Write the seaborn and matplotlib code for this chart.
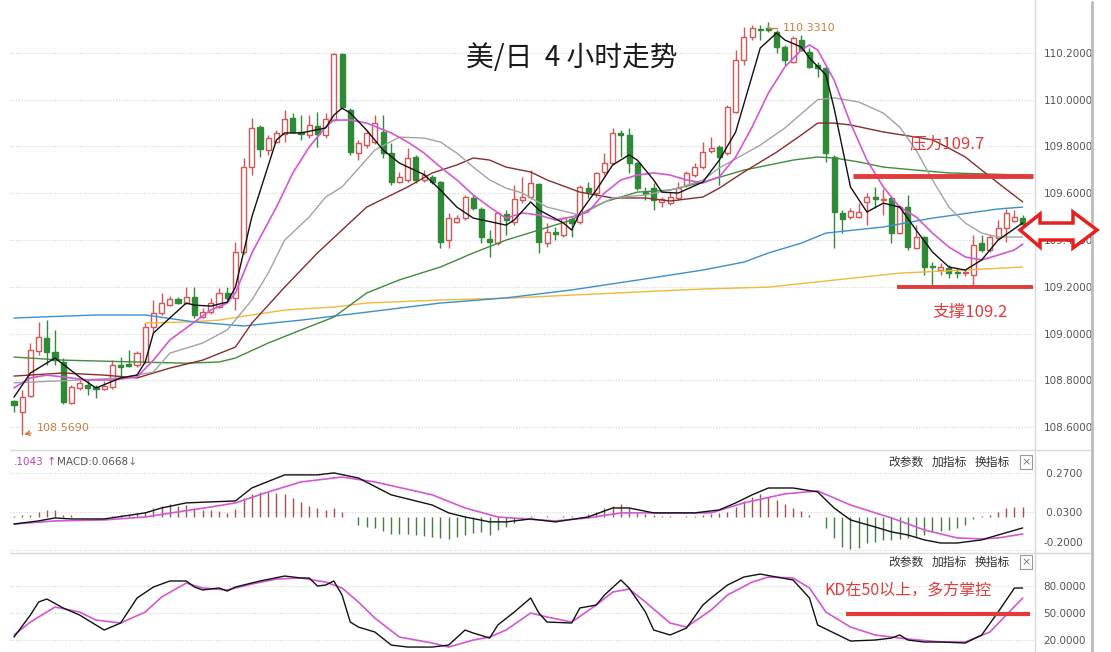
import numpy as np
import matplotlib
matplotlib.use("Agg")
import matplotlib.pyplot as plt
import matplotlib.transforms as mtransforms
import seaborn as sns
from matplotlib.lines import Line2D
from matplotlib.patches import Polygon

# ---- candles (4h USD/JPY) ----
opens = [
    108.712, 108.665, 108.734, 108.926, 108.981, 108.922, 108.879, 108.704, 108.768, 108.781,
    108.772, 108.763, 108.772, 108.866, 108.870, 108.866, 108.879, 109.028, 109.088, 109.122,
    109.148, 109.131, 109.157, 109.071, 109.092, 109.114, 109.174, 109.153, 109.349, 109.712,
    109.883, 109.785, 109.819, 109.853, 109.922, 109.862, 109.849, 109.888, 109.849, 109.913,
    110.195, 109.956, 109.772, 109.806, 109.819, 109.862, 109.772, 109.648, 109.657, 109.755,
    109.657, 109.670, 109.648, 109.400, 109.477, 109.494, 109.580, 109.533, 109.405, 109.387,
    109.511, 109.477, 109.571, 109.584, 109.640, 109.387, 109.434, 109.422, 109.490, 109.477,
    109.622, 109.601, 109.691, 109.729, 109.858, 109.849, 109.729, 109.605, 109.622, 109.563,
    109.558, 109.580, 109.635, 109.678, 109.712, 109.781, 109.798, 109.772, 109.947, 110.170,
    110.268, 110.302, 110.306, 110.289, 110.225, 110.161, 110.255, 110.204, 110.148, 110.135,
    109.755, 109.516, 109.499, 109.499, 109.563, 109.584, 109.571, 109.580, 109.430, 109.541,
    109.366, 109.413, 109.289, 109.272, 109.281, 109.263, 109.259, 109.251, 109.387, 109.358,
    109.409, 109.451, 109.481, 109.494]
highs = [
    108.716, 108.759, 108.960, 109.050, 109.058, 109.016, 108.896, 108.781, 108.802, 108.802,
    108.781, 108.798, 108.887, 108.900, 108.930, 108.926, 109.045, 109.144, 109.174, 109.161,
    109.157, 109.199, 109.199, 109.110, 109.153, 109.195, 109.199, 109.392, 109.751, 109.922,
    109.892, 109.849, 109.870, 109.956, 109.943, 109.934, 109.934, 109.947, 109.943, 110.200,
    110.200, 109.964, 109.828, 109.870, 109.934, 109.934, 109.815, 109.691, 109.793, 109.764,
    109.699, 109.678, 109.652, 109.516, 109.507, 109.593, 109.593, 109.541, 109.443, 109.520,
    109.529, 109.635, 109.670, 109.699, 109.644, 109.473, 109.456, 109.499, 109.499, 109.635,
    109.648, 109.691, 109.772, 109.879, 109.870, 109.879, 109.734, 109.627, 109.644, 109.584,
    109.605, 109.648, 109.695, 109.729, 109.819, 109.840, 109.806, 109.977, 110.212, 110.311,
    110.319, 110.319, 110.331, 110.298, 110.234, 110.272, 110.276, 110.221, 110.161, 110.140,
    109.764, 109.529, 109.537, 109.558, 109.601, 109.627, 109.618, 109.588, 109.550, 109.593,
    109.464, 109.417, 109.306, 109.302, 109.293, 109.281, 109.272, 109.422, 109.422, 109.422,
    109.486, 109.533, 109.529, 109.507]
lows = [
    108.665, 108.569, 108.729, 108.909, 108.866, 108.866, 108.699, 108.699, 108.759, 108.738,
    108.725, 108.759, 108.763, 108.815, 108.857, 108.857, 108.874, 109.003, 109.080, 109.118,
    109.127, 109.127, 109.067, 109.067, 109.084, 109.110, 109.144, 109.101, 109.340, 109.678,
    109.755, 109.764, 109.815, 109.819, 109.858, 109.828, 109.836, 109.798, 109.836, 109.909,
    109.960, 109.764, 109.742, 109.793, 109.811, 109.751, 109.635, 109.644, 109.648, 109.644,
    109.648, 109.640, 109.366, 109.366, 109.473, 109.486, 109.529, 109.387, 109.328, 109.379,
    109.422, 109.464, 109.558, 109.575, 109.345, 109.370, 109.400, 109.413, 109.413, 109.469,
    109.580, 109.584, 109.678, 109.721, 109.755, 109.687, 109.614, 109.571, 109.529, 109.541,
    109.550, 109.571, 109.627, 109.670, 109.704, 109.772, 109.635, 109.764, 109.943, 110.148,
    110.255, 110.255, 110.289, 110.200, 110.148, 110.157, 110.208, 110.135, 110.097, 109.734,
    109.366, 109.430, 109.490, 109.494, 109.464, 109.537, 109.507, 109.387, 109.426, 109.358,
    109.362, 109.251, 109.199, 109.251, 109.238, 109.238, 109.246, 109.208, 109.349, 109.349,
    109.400, 109.392, 109.477, 109.460]
closes = [
    108.695, 108.729, 108.930, 108.986, 108.922, 108.887, 108.708, 108.772, 108.789, 108.768,
    108.763, 108.776, 108.866, 108.857, 108.862, 108.917, 109.028, 109.088, 109.131, 109.148,
    109.131, 109.157, 109.080, 109.092, 109.131, 109.174, 109.153, 109.349, 109.712, 109.879,
    109.789, 109.836, 109.858, 109.917, 109.862, 109.853, 109.892, 109.853, 109.917, 110.195,
    109.969, 109.776, 109.815, 109.858, 109.900, 109.772, 109.648, 109.670, 109.751, 109.657,
    109.678, 109.648, 109.392, 109.494, 109.494, 109.584, 109.537, 109.413, 109.392, 109.516,
    109.486, 109.575, 109.584, 109.644, 109.392, 109.434, 109.426, 109.494, 109.473, 109.627,
    109.605, 109.687, 109.729, 109.858, 109.849, 109.729, 109.622, 109.597, 109.571, 109.575,
    109.584, 109.622, 109.687, 109.712, 109.776, 109.793, 109.755, 109.969, 110.170, 110.268,
    110.306, 110.298, 110.298, 110.225, 110.170, 110.264, 110.212, 110.140, 110.135, 109.772,
    109.520, 109.490, 109.524, 109.520, 109.584, 109.575, 109.575, 109.430, 109.541, 109.370,
    109.413, 109.285, 109.285, 109.285, 109.259, 109.259, 109.263, 109.379, 109.358, 109.413,
    109.451, 109.516, 109.499, 109.469]

# ---- moving averages (bar index, price) ----
ma5_x = [0, 2, 5, 8, 10, 13, 15, 16, 17, 21, 22, 24, 26, 27, 29, 32, 33, 35, 38, 39, 40, 41,
         43, 45, 47, 50, 52, 54, 56, 60, 61, 63, 64, 67, 68, 69, 71, 73, 75, 76, 78, 79, 81,
         84, 86, 88, 91, 93, 94, 96, 97, 99, 100, 102, 104, 106, 108, 110, 112, 114, 116,
         118, 120, 123]
ma5_y = [108.729, 108.832, 108.896, 108.815, 108.768, 108.811, 108.823, 108.879, 109.003,
         109.131, 109.122, 109.118, 109.135, 109.199, 109.499, 109.828, 109.858, 109.858,
         109.879, 109.934, 109.964, 109.943, 109.870, 109.785, 109.729, 109.680, 109.614,
         109.541, 109.494, 109.464, 109.486, 109.563, 109.529, 109.473, 109.443, 109.516,
         109.614, 109.721, 109.764, 109.742, 109.657, 109.605, 109.601, 109.648, 109.742,
         109.862, 110.221, 110.285, 110.255, 110.225, 110.178, 110.106, 109.964, 109.627,
         109.520, 109.558, 109.541, 109.443, 109.349, 109.285, 109.272, 109.315, 109.400,
         109.473]
ma10_x = [0, 2, 4, 6, 9, 12, 15, 17, 19, 22, 24, 26, 27, 29, 32, 34, 36, 38, 39, 41, 43, 46,
          48, 50, 52, 54, 56, 58, 60, 62, 64, 66, 68, 70, 72, 74, 76, 78, 80, 82, 84, 86, 88,
          90, 92, 94, 96, 97, 98, 100, 102, 104, 106, 108, 110, 112, 114, 116, 118, 120, 122,
          123]
ma10_y = [108.768, 108.811, 108.823, 108.815, 108.802, 108.802, 108.815, 108.887, 108.973,
          109.050, 109.101, 109.131, 109.174, 109.345, 109.541, 109.687, 109.798, 109.883,
          109.913, 109.913, 109.900, 109.858, 109.819, 109.772, 109.712, 109.657, 109.593,
          109.541, 109.494, 109.516, 109.507, 109.486, 109.499, 109.520, 109.601, 109.657,
          109.678, 109.687, 109.678, 109.657, 109.644, 109.670, 109.755, 109.883, 110.029,
          110.140, 110.212, 110.234, 110.212, 110.084, 109.900, 109.742, 109.627, 109.541,
          109.499, 109.430, 109.370, 109.328, 109.315, 109.336, 109.358, 109.383]
ma20_x = [0, 8, 13, 17, 19, 23, 26, 29, 31, 33, 36, 38, 40, 44, 47, 50, 52, 54, 56, 58, 60,
          62, 65, 69, 73, 77, 81, 84, 86, 91, 94, 98, 100, 103, 106, 108, 110, 112, 114, 116,
          118, 120, 123]
ma20_y = [108.790, 108.802, 108.811, 108.836, 108.917, 108.960, 109.016, 109.144, 109.259,
          109.400, 109.499, 109.584, 109.627, 109.785, 109.840, 109.836, 109.819, 109.772,
          109.712, 109.657, 109.622, 109.601, 109.541, 109.507, 109.580, 109.593, 109.622,
          109.657, 109.708, 109.806, 109.879, 110.000, 110.008, 109.990, 109.943, 109.883,
          109.785, 109.657, 109.541, 109.473, 109.430, 109.413, 109.413]
ma30_x = [0, 6, 11, 15, 19, 23, 27, 29, 33, 37, 40, 43, 48, 51, 54, 56, 58, 60, 63, 65, 69,
          73, 77, 80, 84, 86, 89, 93, 96, 98, 100, 102, 106, 110, 112, 114, 116, 118, 120, 123]
ma30_y = [108.819, 108.832, 108.823, 108.811, 108.853, 108.887, 108.943, 109.045, 109.199,
          109.345, 109.443, 109.541, 109.627, 109.687, 109.721, 109.751, 109.742, 109.712,
          109.691, 109.657, 109.605, 109.580, 109.580, 109.567, 109.584, 109.622, 109.691,
          109.776, 109.849, 109.900, 109.900, 109.892, 109.862, 109.840, 109.828, 109.793,
          109.755, 109.699, 109.644, 109.563]
ma60_x = [0, 6, 15, 21, 25, 27, 31, 35, 39, 43, 47, 52, 56, 60, 64, 68, 70, 72, 76, 80, 84,
          89, 95, 98, 100, 103, 106, 110, 114, 123]
ma60_y = [108.900, 108.887, 108.879, 108.874, 108.879, 108.896, 108.960, 109.016, 109.071,
          109.174, 109.230, 109.285, 109.345, 109.400, 109.443, 109.486, 109.529, 109.563,
          109.605, 109.614, 109.648, 109.699, 109.742, 109.755, 109.751, 109.734, 109.712,
          109.699, 109.687, 109.678]
ma120_x = [0, 10, 16, 22, 28, 35, 43, 52, 60, 68, 76, 84, 89, 92, 96, 99, 106, 112, 120, 123]
ma120_y = [109.067, 109.080, 109.080, 109.050, 109.033, 109.058, 109.092, 109.131, 109.153,
           109.187, 109.229, 109.272, 109.306, 109.345, 109.387, 109.430, 109.456, 109.494,
           109.533, 109.541]
ma250_x = [16, 21, 25, 29, 33, 39, 43, 52, 61, 68, 76, 84, 92, 100, 108, 116, 123]
ma250_y = [109.045, 109.050, 109.058, 109.080, 109.101, 109.114, 109.131, 109.144, 109.153,
           109.165, 109.178, 109.191, 109.199, 109.229, 109.259, 109.272, 109.285]

# ---- MACD ----
macd_hist = [
    0.005, 0.013, 0.013, 0.034, 0.044, 0.044, 0.013, 0.013, 0.003, 0.0,
    0.0, 0.0, 0.009, 0.013, 0.013, 0.024, 0.034, 0.058, 0.068, 0.079,
    0.068, 0.074, 0.054, 0.044, 0.044, 0.038, 0.027, 0.048, 0.115, 0.140,
    0.152, 0.152, 0.150, 0.140, 0.119, 0.095, 0.070, 0.054, 0.044, 0.058,
    0.034, 0.003, -0.048, -0.058, -0.064, -0.084, -0.105, -0.105, -0.105, -0.109,
    -0.113, -0.119, -0.129, -0.133, -0.119, -0.109, -0.099, -0.092, -0.109, -0.078,
    -0.058, -0.037, -0.017, 0.009, 0.003, 0.009, 0.003, 0.009, 0.009, 0.003,
    0.018, 0.034, 0.054, 0.070, 0.081, 0.058, 0.027, 0.020, 0.013, 0.009,
    0.007, 0.003, 0.009, 0.007, 0.013, 0.018, 0.024, 0.034, 0.064, 0.099,
    0.125, 0.140, 0.125, 0.105, 0.079, 0.058, 0.038, 0.013, 0.003, -0.068,
    -0.129, -0.180, -0.194, -0.186, -0.159, -0.150, -0.139, -0.139, -0.133, -0.125,
    -0.119, -0.109, -0.092, -0.084, -0.078, -0.064, -0.048, -0.011, 0.009, 0.013,
    0.034, 0.054, 0.064, 0.064]
dif_x = [0, 3, 5, 7, 11, 16, 18, 21, 27, 29, 33, 37, 39, 42, 46, 51, 53, 55, 58, 60, 63, 66,
         70, 73, 75, 78, 83, 86, 88, 90, 92, 95, 98, 100, 102, 105, 107, 109, 111, 113, 115,
         118, 120, 123]
dif_y = [-0.042, -0.023, -0.005, -0.011, -0.011, 0.026, 0.056, 0.087, 0.099, 0.178, 0.258,
         0.258, 0.270, 0.239, 0.136, 0.074, 0.026, 0.001, -0.029, -0.029, -0.011, -0.029,
         0.001, 0.056, 0.056, 0.026, 0.026, 0.044, 0.087, 0.136, 0.178, 0.178, 0.154, 0.056,
         -0.017, -0.060, -0.090, -0.109, -0.139, -0.158, -0.158, -0.139, -0.109, -0.066]
dea_x = [0, 5, 11, 16, 20, 24, 27, 31, 35, 40, 44, 51, 55, 59, 64, 66, 70, 74, 78, 85, 89,
         94, 98, 102, 107, 111, 115, 118, 120, 123]
dea_y = [-0.042, -0.023, -0.017, 0.001, 0.032, 0.062, 0.087, 0.154, 0.215, 0.245, 0.215,
         0.136, 0.056, 0.001, -0.017, -0.023, -0.005, 0.026, 0.026, 0.026, 0.087, 0.142,
         0.160, 0.074, -0.005, -0.078, -0.127, -0.133, -0.127, -0.103]

# ---- KD ----
k_x = [0, 2, 3, 4, 6, 8, 9, 11, 13, 15, 17, 19, 21, 22, 23, 25, 26, 27, 30, 33, 35, 36, 37,
       38, 39, 40, 41, 42, 44, 46, 48, 51, 53, 55, 56, 58, 59, 61, 63, 64, 65, 68, 69, 71,
       72, 74, 75, 77, 78, 80, 82, 84, 85, 87, 89, 91, 93, 95, 97, 98, 100, 102, 105, 107,
       108, 109, 111, 113, 116, 118, 120, 122, 123]
k_y = [23.3, 47.8, 62.2, 65.6, 55.6, 47.8, 42.2, 31.1, 38.9, 66.7, 78.9, 85.6, 85.6, 78.9,
       75.6, 77.8, 74.4, 78.9, 85.6, 91.1, 88.9, 88.9, 80.0, 81.1, 85.6, 70.0, 40.0, 34.4,
       28.9, 14.4, 12.2, 12.2, 14.4, 31.1, 27.8, 22.2, 36.7, 51.1, 66.7, 50.0, 40.0, 38.9,
       55.6, 58.9, 70.0, 86.7, 77.8, 51.1, 31.1, 25.6, 33.3, 58.9, 66.7, 81.1, 90.0, 93.3,
       90.0, 86.7, 66.7, 36.7, 27.8, 18.9, 20.0, 22.2, 25.6, 20.0, 17.8, 17.8, 16.7, 25.6,
       51.1, 77.8, 77.8]
d_x = [0, 2, 5, 8, 10, 13, 16, 18, 21, 23, 26, 29, 32, 35, 38, 40, 42, 44, 47, 51, 53, 56,
       58, 60, 63, 65, 68, 71, 73, 75, 77, 80, 82, 85, 87, 90, 92, 95, 97, 99, 102, 105, 109,
       113, 116, 119, 121, 123]
d_y = [25.6, 40.0, 56.7, 51.1, 42.2, 38.9, 51.1, 67.8, 83.3, 77.8, 75.6, 82.2, 87.8, 88.9,
       84.4, 77.8, 62.2, 44.4, 23.3, 16.7, 12.2, 20.0, 23.3, 31.1, 50.0, 45.6, 40.0, 58.9,
       73.3, 76.7, 62.2, 38.9, 34.4, 53.3, 70.0, 84.4, 90.0, 88.9, 77.8, 51.1, 34.4, 25.6,
       21.1, 17.8, 17.8, 28.9, 47.8, 66.7]

price_ticks = [108.6, 108.8, 109.0, 109.2, 109.4, 109.6, 109.8, 110.0, 110.2]
macd_ticks = [0.27, 0.03, -0.20]
macd_labels = [" 0.2700", " 0.0300", "-0.2000"]
kd_ticks = [80, 50, 20]
kd_labels = ["80.0000", "50.0000", "20.0000"]

resist_level = 109.675
support_level = 109.2
kd_level = 49

# ---- styling ----
RED = "#d45656"
GREEN = "#2f8a38"
ANNO = "#e23b3b"
GRID = "#d6d6d6"
EDGE = "#d9d9d9"
CJK = ["Noto Sans CJK SC", "DejaVu Sans"]

sns.set_theme(style="white")
plt.rcParams["font.family"] = ["DejaVu Sans", "Noto Sans CJK SC"]

W, H = 1111, 652
fig = plt.figure(figsize=(W / 100, H / 100), dpi=100)


def box(x0, y0, x1, y1):
    return [x0 / W, 1 - y1 / H, (x1 - x0) / W, (y1 - y0) / H]


def fx(x):
    return x / W


def fy(y):
    return 1 - y / H


ax = fig.add_axes(box(10, 0, 1035, 450))
ax_macd = fig.add_axes(box(10, 450, 1035, 553))
ax_kd = fig.add_axes(box(10, 553, 1035, 652))

o = np.array(opens)
h = np.array(highs)
l = np.array(lows)
c = np.array(closes)
idx = np.arange(len(c))
up = c >= o
body_lo = np.minimum(o, c)
body_h = np.maximum(np.abs(c - o), 0.003)

# candles
ax.vlines(idx[up], l[up], h[up], color=RED, lw=1, zorder=2)
ax.vlines(idx[~up], l[~up], h[~up], color=GREEN, lw=1, zorder=2)
ax.bar(idx[up], body_h[up], bottom=body_lo[up], width=0.62,
       facecolor="white", edgecolor=RED, linewidth=1, zorder=3)
ax.bar(idx[~up], body_h[~up], bottom=body_lo[~up], width=0.62,
       facecolor=GREEN, edgecolor=GREEN, linewidth=1, zorder=3)

# moving averages
for xs, ys, col, lw in [(ma250_x, ma250_y, "#f2b83c", 1.0),
                        (ma120_x, ma120_y, "#3a8fd0", 1.0),
                        (ma60_x, ma60_y, "#3f8c3f", 1.0),
                        (ma30_x, ma30_y, "#8b2c2c", 1.0),
                        (ma20_x, ma20_y, "#a3a3a3", 1.0),
                        (ma10_x, ma10_y, "#d457d4", 1.2),
                        (ma5_x, ma5_y, "#111111", 1.0)]:
    sns.lineplot(x=xs, y=ys, ax=ax, color=col, lw=lw, zorder=4)

# resistance / support
ax.hlines(resist_level, 102.3, 124.2, color=ANNO, lw=3.5, zorder=5)
ax.hlines(support_level, 107.7, 124.2, color=ANNO, lw=2.8, zorder=5)
ax.text(109.2, 109.81, "压力109.7", color=ANNO, fontsize=12, family=CJK,
        ha="left", va="center", zorder=6)
ax.text(112.0, 109.09, "支撑109.2", color=ANNO, fontsize=12, family=CJK,
        ha="left", va="center", zorder=6)
ax.text(68.0, 110.178, "美/日  4 小时走势", color="#1a1a1a", fontsize=20,
        family=CJK, ha="center", va="center")

ax.annotate("110.3310", xy=(92, 110.331), xytext=(93.8, 110.306),
            color="#cf7d3c", fontsize=8, ha="left", va="center",
            arrowprops=dict(arrowstyle="-", color="#cf7d3c", lw=1,
                            connectionstyle="angle,angleA=0,angleB=90,rad=0"))
ax.annotate("108.5690", xy=(0.9, 108.569), xytext=(2.8, 108.598),
            color="#cf7d3c", fontsize=8, ha="left", va="center",
            arrowprops=dict(arrowstyle="->", color="#cf7d3c", lw=1))

ax.set_xlim(-0.49, 124.5)
ax.set_ylim(108.503, 110.426)
ax.set_yticks(price_ticks)
ax.set_yticklabels(["%.4f" % t for t in price_ticks])

# MACD
hist = np.array(macd_hist)
pos = hist >= 0
ax_macd.vlines(idx[pos], 0, hist[pos], color="#a8504f", lw=1)
ax_macd.vlines(idx[~pos], 0, hist[~pos], color="#3f7f3f", lw=1)
sns.lineplot(x=dea_x, y=dea_y, ax=ax_macd, color="#d457d4", lw=1.2)
sns.lineplot(x=dif_x, y=dif_y, ax=ax_macd, color="#111111", lw=1.0)
ax_macd.set_xlim(-0.49, 124.5)
ax_macd.set_ylim(-0.219, 0.410)
ax_macd.set_yticks(macd_ticks)
ax_macd.set_yticklabels(macd_labels)

# KD
sns.lineplot(x=d_x, y=d_y, ax=ax_kd, color="#d457d4", lw=1.2)
sns.lineplot(x=k_x, y=k_y, ax=ax_kd, color="#111111", lw=1.0)
ax_kd.hlines(kd_level, 101.5, 123.9, color=ANNO, lw=3, zorder=5)
ax_kd.text(98.8, 74.4, "KD在50以上，多方掌控", color=ANNO, fontsize=11.5,
           family=CJK, ha="left", va="center")
ax_kd.set_xlim(-0.49, 124.5)
ax_kd.set_ylim(6.7, 116.7)
ax_kd.set_yticks(kd_ticks)
ax_kd.set_yticklabels(kd_labels)

for a in (ax, ax_macd, ax_kd):
    a.set_xticks([])
    a.set_xlabel("")
    a.set_ylabel("")
    a.yaxis.tick_right()
    a.tick_params(axis="y", length=0, pad=6, labelsize=7.5, labelcolor="#555555")
    a.grid(axis="y", color=GRID, linestyle=(0, (1, 1.5)), lw=0.8)
    a.grid(axis="x", visible=False)
    for side in ("top", "left", "bottom"):
        a.spines[side].set_visible(False)
    a.spines["right"].set_color(EDGE)
    a.spines["right"].set_linewidth(1)
    a.set_facecolor("white")
    a.set_axisbelow(True)

# lowest MACD label sits a little above its grid line, as in the terminal
lift = mtransforms.ScaledTranslation(0, 6 / 72, fig.dpi_scale_trans)
low_label = ax_macd.get_yticklabels()[-1]
low_label.set_transform(low_label.get_transform() + lift)

# panel separators and right frame
for yy in (450, 553):
    fig.add_artist(Line2D([fx(10), fx(1092)], [fy(yy), fy(yy)], color=EDGE, lw=1))
fig.add_artist(Line2D([fx(1092), fx(1092)], [fy(2), fy(652)], color="#bcbcbc", lw=2))

# indicator headers
fig.text(fx(14), fy(462), ".1043", color="#c040c0", fontsize=7.5, va="center")
fig.text(fx(47), fy(462), "↑", color="#c040c0", fontsize=8, va="center")
fig.text(fx(57), fy(462), "MACD:0.0668", color="#555555", fontsize=7.5, va="center")
fig.text(fx(128), fy(462), "↓", color="#777777", fontsize=8, va="center")
for yy in (462, 562):
    for xx, word in ((888, "改参数"), (932, "加指标"), (975, "换指标")):
        fig.text(fx(xx), fy(yy), word, color="#333333", fontsize=8.5,
                 family=CJK, va="center")
    fig.text(fx(1026), fy(yy), "×", color="#777777", fontsize=8, ha="center",
             va="center", bbox=dict(boxstyle="square,pad=0.15", fc="white",
                                    ec="#999999", lw=0.8))

# hollow double arrow on the right edge
arrow_px = [(1020, 230), (1040, 214), (1040, 223), (1073, 223), (1073, 212),
            (1097, 230), (1073, 248), (1073, 240), (1040, 240), (1040, 247)]
fig.add_artist(Polygon([(fx(px), fy(py)) for px, py in arrow_px], closed=True,
                       transform=fig.transFigure, facecolor="white",
                       edgecolor="#e62020", lw=2.5, zorder=10))

fig.savefig("out.png", dpi=100, facecolor="white")
